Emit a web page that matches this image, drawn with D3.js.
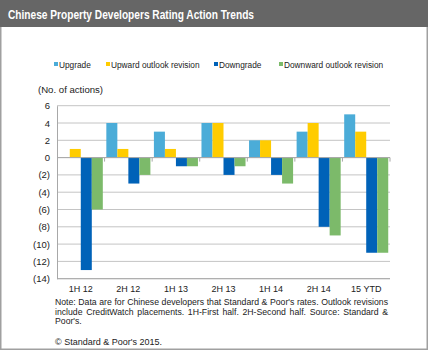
<!DOCTYPE html>
<html>
<head>
<meta charset="utf-8">
<script src="https://cdn.jsdelivr.net/npm/d3@7"></script>
<style>
  body { margin: 0; background: #fff; }
  svg { display: block; font-family: "Liberation Sans", Arial, sans-serif; }
</style>
</head>
<body>
<svg id="chart" width="428" height="350"></svg>
<script>
const categories = ["1H 12", "2H 12", "1H 13", "2H 13", "1H 14", "2H 14", "15 YTD"];
const seriesNames = ["Upgrade", "Upward outlook revision", "Downgrade", "Downward outlook revision"];
const upgrade = [0, 4, 3, 4, 2, 3, 5];
const upwardOutlook = [1, 1, 1, 4, 2, 4, 3];
const downgrade = [-13, -3, -1, -2, -2, -8, -11];
const downwardOutlook = [-6, -2, -1, -1, -3, -9, -11];
const yTicks = [6, 4, 2, 0, -2, -4, -6, -8, -10, -12, -14];
const colors = ["#4bacd8", "#ffcc00", "#0062b8", "#7cba6a"];

const seriesValues = [upgrade, upwardOutlook, downgrade, downwardOutlook];

const svg = d3.select("#chart");
const W = 428, H = 350;

// frame + title bar
svg.append("rect").attr("x", 0.75).attr("y", 0.75).attr("width", W - 1.5).attr("height", H - 1.5)
    .attr("fill", "#fff").attr("stroke", "#a0a0a0").attr("stroke-width", 1.5);
svg.append("rect").attr("x", 0).attr("y", 0).attr("width", W).attr("height", 27)
    .attr("fill", "#666666");
// the original uses a condensed bold face, squeeze it to the same width
svg.append("text").attr("x", 8).attr("y", 18.5)
    .attr("fill", "#fff").style("font-size", "12.5px").style("font-weight", "bold")
    .attr("textLength", 246).attr("lengthAdjust", "spacingAndGlyphs")
    .text("Chinese Property Developers Rating Action Trends");

const plot = { left: 57, right: 390, top: 105.7, bottom: 278.7 };

const x = d3.scaleBand().domain(categories).range([plot.left, plot.right]).paddingInner(0).paddingOuter(0);
const inner = d3.scaleBand().domain(seriesNames).range([0, x.bandwidth()]).paddingInner(0).paddingOuter(0.16);
const y = d3.scaleLinear().domain([-14, 6]).range([plot.bottom, plot.top]);

// gridlines
svg.append("g").selectAll("line").data(yTicks).join("line")
    .attr("x1", plot.left).attr("x2", plot.right)
    .attr("y1", d => y(d)).attr("y2", d => y(d))
    .attr("stroke", "#c4c4c4").attr("stroke-width", 1);

// y axis
const yAxis = svg.append("g").attr("transform", `translate(${plot.left},0)`)
    .call(d3.axisLeft(y).tickValues(yTicks).tickSize(0).tickPadding(7)
        .tickFormat(d => d < 0 ? `(${-d})` : `${d}`));
yAxis.select(".domain").attr("stroke", "#a8a8a8");
yAxis.selectAll("text").style("font-size", "9.5px").attr("fill", "#222")
    .style("font-family", "Liberation Sans, Arial, sans-serif");

// bars
const groups = svg.append("g").selectAll("g").data(categories).join("g")
    .attr("transform", d => `translate(${x(d)},0)`);
groups.selectAll("rect")
    .data((c, i) => seriesNames.map((s, j) => ({ s, j, v: seriesValues[j][i] })))
    .join("rect")
    .attr("x", d => inner(d.s))
    .attr("width", inner.bandwidth())
    .attr("y", d => y(Math.max(0, d.v)))
    .attr("height", d => Math.abs(y(d.v) - y(0)))
    .attr("fill", d => colors[d.j]);

// zero axis with category ticks
const xAxis = svg.append("g").attr("transform", `translate(0,${y(0)})`);
xAxis.append("line").attr("x1", plot.left).attr("x2", plot.right)
    .attr("stroke", "#a8a8a8");
xAxis.selectAll("line.tk").data(categories).join("line")
    .attr("class", "tk")
    .attr("x1", d => x(d) + x.bandwidth())
    .attr("x2", d => x(d) + x.bandwidth())
    .attr("y1", 0).attr("y2", 4).attr("stroke", "#a8a8a8");

// bottom line
svg.append("line").attr("x1", plot.left).attr("x2", plot.right)
    .attr("y1", plot.bottom).attr("y2", plot.bottom).attr("stroke", "#a8a8a8");

// category labels
svg.append("g").selectAll("text").data(categories).join("text")
    .attr("x", d => x(d) + x.bandwidth() / 2).attr("y", 292)
    .attr("text-anchor", "middle").style("font-size", "9px").attr("fill", "#222")
    .text(d => d);

// legend
const legendX = [54, 106, 214, 279];
const legend = svg.append("g").selectAll("g").data(seriesNames).join("g")
    .attr("transform", (d, i) => `translate(${legendX[i]},66)`);
legend.append("rect").attr("x", 0).attr("y", -4).attr("width", 4).attr("height", 4)
    .attr("fill", (d, i) => colors[i]);
legend.append("text").attr("x", 5).attr("y", 0).attr("dy", "0.2em")
    .style("font-size", "8.3px").attr("fill", "#222").text(d => d);

// axis title
svg.append("text").attr("x", 38).attr("y", 93).style("font-size", "9.6px").attr("fill", "#222")
    .text("(No. of actions)");

// note, justified like the original
const noteLines = [
  "Note: Data are for Chinese developers that Standard & Poor's rates. Outlook revisions",
  "include CreditWatch placements. 1H-First half. 2H-Second half. Source: Standard &",
  "Poor's."
];
const noteLeft = 55, noteRight = 388;
noteLines.forEach((line, li) => {
  const words = line.split(" ");
  const yy = 305 + li * 9.6;
  const texts = words.map(w => svg.append("text").attr("y", yy).style("font-size", "8.7px")
      .attr("fill", "#222").text(w));
  const widths = texts.map(t => t.node().getComputedTextLength());
  const total = d3.sum(widths);
  const justify = li < noteLines.length - 1;
  const gap = justify ? (noteRight - noteLeft - total) / (words.length - 1) : 2.4;
  let cx = noteLeft;
  texts.forEach((t, k) => { t.attr("x", cx); cx += widths[k] + gap; });
});

svg.append("text").attr("x", 55).attr("y", 345).style("font-size", "9px").attr("fill", "#222")
    .text("© Standard & Poor's 2015.");
</script>
</body>
</html>
